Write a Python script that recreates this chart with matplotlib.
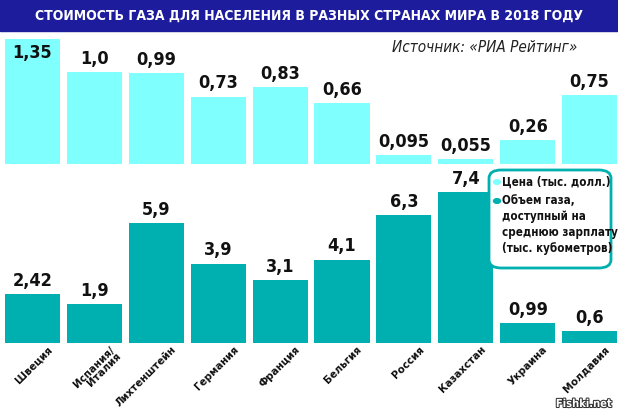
import matplotlib
matplotlib.use("Agg")
import matplotlib.pyplot as plt
import matplotlib.patheffects as pe
from matplotlib.patches import Rectangle, FancyBboxPatch, Circle

# --- data ---
countries = ["Швеция", "Испания/\nИталия", "Лихтенштейн", "Германия", "Франция",
             "Бельгия", "Россия", "Казахстан", "Украина", "Молдавия"]
price = [1.35, 1.0, 0.99, 0.73, 0.83, 0.66, 0.095, 0.055, 0.26, 0.75]
price_labels = ["1,35", "1,0", "0,99", "0,73", "0,83", "0,66", "0,095", "0,055", "0,26", "0,75"]
volume = [2.42, 1.9, 5.9, 3.9, 3.1, 4.1, 6.3, 7.4, 0.99, 0.6]
volume_labels = ["2,42", "1,9", "5,9", "3,9", "3,1", "4,1", "6,3", "7,4", "0,99", "0,6"]

title = "СТОИМОСТЬ ГАЗА ДЛЯ НАСЕЛЕНИЯ В РАЗНЫХ СТРАНАХ МИРА В 2018 ГОДУ"
source = "Источник: «РИА Рейтинг»"
legend_price = "Цена (тыс. долл.)"
legend_volume = "Объем газа,\nдоступный на\nсреднюю зарплату\n(тыс. кубометров)"

LIGHT = "#80FFFF"
TEAL = "#00AFAF"
BLUE = "#1c1c9c"

plt.rcParams["font.family"] = ["DejaVu Sans"]
plt.rcParams["font.stretch"] = "condensed"

W, H = 618, 412
fig = plt.figure(figsize=(W / 100, H / 100), dpi=100)

def fy(py):
    return 1 - py / H

x = list(range(len(countries)))
xlim = (-32.5 / 61.9, (W - 32.5) / 61.9)

# top axes: price
ax1 = fig.add_axes([0, fy(164), 1, fy(33) - fy(164)])
ax1.bar(x, price, width=0.89, color=LIGHT)
ax1.set_xlim(*xlim)
ax1.set_ylim(0, 1.42)
ax1.axis("off")
for i, (v, s) in enumerate(zip(price, price_labels)):
    if v > 1.2:
        ax1.annotate(s, (i, v), xytext=(0, -3), textcoords="offset points",
                     ha="center", va="top", fontsize=13, fontweight="bold", color="#111")
    else:
        ax1.annotate(s, (i, v), xytext=(0, 3), textcoords="offset points",
                     ha="center", va="bottom", fontsize=13, fontweight="bold", color="#111")

# bottom axes: volume
ax2 = fig.add_axes([0, fy(343), 1, fy(166) - fy(343)])
ax2.bar(x, volume, width=0.89, color=TEAL)
ax2.set_xlim(*xlim)
ax2.set_ylim(0, 8.7)
ax2.axis("off")
for i, s in enumerate(volume_labels):
    ax2.annotate(s, (i, volume[i]), xytext=(0, 3), textcoords="offset points",
                 ha="center", va="bottom", fontsize=13, fontweight="bold", color="#111")

# country labels
for i, c in enumerate(countries):
    ax2.annotate(c, (i + 0.24, 0), xytext=(0, -1), textcoords="offset points",
                 rotation=45, rotation_mode="anchor", ha="right", va="top",
                 fontsize=8.2, fontweight="bold", color="#111", annotation_clip=False,
                 linespacing=0.95)

# title bar
fig.patches.append(Rectangle((0, fy(31)), 1, fy(0) - fy(31), transform=fig.transFigure,
                             color=BLUE, zorder=0))
fig.text(0.5, fy(16), title, ha="center", va="center", color="white",
         fontsize=10, fontweight="bold")
fig.text(577 / W, fy(47), source, ha="right", va="center", fontsize=11,
         style="italic", color="#222")

# legend box
fig.patches.append(FancyBboxPatch((489 / W, fy(268)), 122 / W, (268 - 170) / H,
                                  boxstyle="round,pad=0,rounding_size=0.02",
                                  transform=fig.transFigure, facecolor="white",
                                  edgecolor=TEAL, linewidth=2, zorder=5))
fig.patches.append(Circle((497 / W, fy(182)), 3.5 / W, transform=fig.transFigure,
                          color=LIGHT, zorder=6))
fig.patches.append(Circle((497 / W, fy(201)), 3.5 / W, transform=fig.transFigure,
                          color=TEAL, zorder=6))
fig.text(502 / W, fy(182), legend_price, ha="left", va="center", fontsize=8.3,
         fontweight="bold", color="#111", zorder=7)
fig.text(502 / W, fy(194), legend_volume, ha="left", va="top", fontsize=8.3,
         fontweight="bold", color="#111", zorder=7, linespacing=1.3)

fig.text(612 / W, fy(404), "Fishki.net", ha="right", va="center", fontsize=8,
         color="white", fontweight="bold",
         path_effects=[pe.withStroke(linewidth=1.5, foreground="#333")])

fig.savefig("out.png", dpi=100)
